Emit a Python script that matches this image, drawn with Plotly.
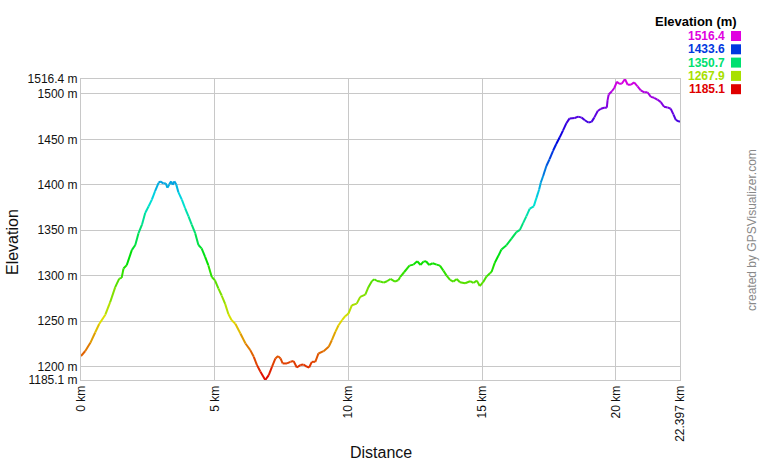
import colorsys
import plotly.graph_objects as go

# ---------------- data ----------------
distance_km = [
    0.00, 0.16, 0.35, 0.53, 0.68, 0.91, 1.09, 1.28, 1.43, 1.52, 1.59, 1.71, 1.90, 2.03,
    2.15, 2.28, 2.40, 2.53, 2.65, 2.77, 2.90, 2.96, 3.08, 3.17, 3.23, 3.30, 3.37, 3.43,
    3.49, 3.56, 3.64, 3.77, 3.89, 4.02, 4.14, 4.27, 4.39, 4.51, 4.64, 4.76, 4.89, 5.01,
    5.14, 5.26, 5.39, 5.51, 5.63, 5.77, 5.96, 6.15, 6.33, 6.46, 6.58, 6.71, 6.89, 7.02,
    7.14, 7.27, 7.37, 7.46, 7.54, 7.70, 7.83, 7.95, 8.07, 8.20, 8.32, 8.45, 8.53, 8.63,
    8.76, 8.88, 9.07, 9.26, 9.38, 9.51, 9.63, 9.76, 9.88, 10.00, 10.13, 10.31, 10.44,
    10.63, 10.75, 10.88, 10.97, 11.07, 11.19, 11.32, 11.44, 11.57, 11.74, 11.87, 11.93,
    12.08, 12.28, 12.43, 12.57, 12.70, 12.80, 12.90, 13.02, 13.15, 13.30, 13.42, 13.55,
    13.67, 13.80, 13.92, 14.05, 14.17, 14.36, 14.55, 14.67, 14.80, 14.91, 15.04, 15.16,
    15.29, 15.35, 15.47, 15.60, 15.72, 15.91, 16.09, 16.28, 16.41, 16.53, 16.65, 16.78,
    16.93, 17.03, 17.13, 17.19, 17.28, 17.40, 17.52, 17.65, 17.77, 17.90, 18.02, 18.15,
    18.27, 18.46, 18.59, 18.72, 18.84, 18.97, 19.09, 19.19, 19.32, 19.44, 19.56, 19.66,
    19.69, 19.73, 19.85, 19.94, 20.04, 20.12, 20.22, 20.34, 20.44, 20.56, 20.68, 20.81,
    20.93, 21.06, 21.18, 21.31, 21.43, 21.55, 21.68, 21.80, 21.93, 22.05, 22.15, 22.24,
    22.36, 22.397,
]
elevation_m = [
    1211.5, 1217.0, 1226.0, 1237.4, 1246.7, 1257.0, 1270.7, 1287.4, 1296.7, 1297.5, 1307.8,
    1311.5, 1328.0, 1333.7, 1346.7, 1356.0, 1369.0, 1376.3, 1383.7, 1393.0, 1402.2, 1403.7,
    1401.5, 1401.5, 1396.7, 1400.4, 1403.7, 1400.0, 1403.7, 1400.4, 1391.9, 1383.7, 1374.4,
    1365.2, 1356.0, 1346.7, 1333.7, 1330.0, 1320.7, 1311.5, 1298.5, 1294.8, 1285.6, 1278.1,
    1268.9, 1257.8, 1251.0, 1247.0, 1236.3, 1225.3, 1218.0, 1210.6, 1201.5, 1194.1, 1185.1,
    1190.5, 1199.6, 1208.8, 1211.4, 1208.8, 1203.3, 1203.3, 1205.1, 1205.9, 1198.9, 1201.5,
    1202.2, 1199.6, 1198.9, 1205.1, 1205.1, 1214.3, 1216.8, 1221.6, 1228.9, 1238.1, 1245.4,
    1250.9, 1255.3, 1258.2, 1267.4, 1269.2, 1276.6, 1279.1, 1287.5, 1294.1, 1296.0, 1294.1,
    1293.5, 1292.3, 1293.8, 1296.3, 1293.4, 1295.2, 1298.2, 1303.7, 1311.0, 1312.1, 1315.8,
    1311.7, 1315.4, 1315.8, 1311.7, 1313.6, 1312.1, 1311.0, 1305.5, 1300.0, 1295.2, 1293.4,
    1296.3, 1292.7, 1291.6, 1293.8, 1291.9, 1294.5, 1288.5, 1293.0, 1298.9, 1302.6, 1304.0,
    1314.0, 1321.5, 1328.8, 1333.5, 1340.4, 1347.8, 1350.4, 1357.8, 1365.2, 1373.7, 1376.3,
    1385.6, 1394.8, 1402.2, 1409.6, 1420.7, 1428.1, 1437.4, 1444.8, 1452.2, 1459.6, 1467.8,
    1473.0, 1473.5, 1475.0, 1473.9, 1471.0, 1468.5, 1469.2, 1473.9, 1481.2, 1483.7, 1484.8,
    1484.8, 1493.1, 1499.3, 1502.9, 1506.5, 1513.4, 1511.2, 1511.2, 1516.4, 1510.1, 1510.1,
    1512.7, 1508.3, 1504.0, 1501.8, 1501.8, 1496.7, 1495.7, 1493.8, 1490.9, 1485.9, 1485.1,
    1483.7, 1477.5, 1471.4, 1469.6, 1469.5,
]
y_tick_values = [1185.1, 1200, 1250, 1300, 1350, 1400, 1450, 1500, 1516.4]
y_tick_labels = ["1185.1 m", "1200 m", "1250 m", "1300 m", "1350 m", "1400 m",
                 "1450 m", "1500 m", "1516.4 m"]
x_tick_values = [0, 5, 10, 15, 20, 22.397]
x_tick_labels = ["0 km", "5 km", "10 km", "15 km", "20 km", "22.397 km"]
legend_values = [1516.4, 1433.6, 1350.7, 1267.9, 1185.1]
legend_labels = ["1516.4", "1433.6", "1350.7", "1267.9", "1185.1"]

E_MIN, E_MAX = 1185.1, 1516.4
FONT = "Liberation Sans, Arial, sans-serif"

# full 760x460 page (body margin removed below); plot area x 81..680, y 79..380
W, H = 760, 460
L, T = 81, 79
R = W - 680
B = H - 380
PW, PH = W - L - R, H - T - B


def px_x(px):  # page pixel -> paper x
    return (px - L) / PW


def px_y(py):  # page pixel -> paper y
    return (H - B - py) / PH


def color_for(e):
    f = max(0.0, min(1.0, (e - E_MIN) / (E_MAX - E_MIN)))
    r, g, b = colorsys.hsv_to_rgb(f * 300 / 360, 1.0, 0.88)
    return f"rgb({int(r*255)},{int(g*255)},{int(b*255)})"


fig = go.Figure()
for i in range(len(distance_km) - 1):
    fig.add_trace(go.Scatter(
        x=distance_km[i:i + 2], y=elevation_m[i:i + 2], mode="lines",
        line=dict(color=color_for((elevation_m[i] + elevation_m[i + 1]) / 2), width=2),
        showlegend=False, hoverinfo="skip"))

annotations = [
    dict(text="Distance", x=0.5, y=px_y(452), xref="paper", yref="paper",
         showarrow=False, xanchor="center", yanchor="middle",
         font=dict(family=FONT, size=16, color="#111")),
    dict(text="Elevation", x=px_x(12), y=px_y(242), xref="paper", yref="paper",
         showarrow=False, textangle=-90, xanchor="center", yanchor="middle",
         font=dict(family=FONT, size=16, color="#111")),
    dict(text="created by GPSVisualizer.com", x=px_x(752), y=px_y(230),
         xref="paper", yref="paper", showarrow=False, textangle=-90,
         xanchor="center", yanchor="middle",
         font=dict(family=FONT, size=12, color="#888")),
    dict(text="<b>Elevation (m)</b>", x=px_x(739), y=px_y(22), xref="paper",
         yref="paper", showarrow=False, xanchor="right", yanchor="middle",
         font=dict(family=FONT, size=13, color="#000")),
]
shapes = []
for k, (v, lab) in enumerate(zip(legend_values, legend_labels)):
    cy = 36 + k * 13.3
    annotations.append(dict(
        text=f"<b>{lab}</b>", x=px_x(727), y=px_y(cy), xref="paper", yref="paper",
        showarrow=False, xanchor="right", yanchor="middle",
        font=dict(family=FONT, size=12, color=color_for(v))))
    shapes.append(dict(
        type="rect", xref="paper", yref="paper",
        x0=px_x(731), x1=px_x(741), y0=px_y(cy + 5), y1=px_y(cy - 5),
        fillcolor=color_for(v), line=dict(width=0)))

fig.update_layout(
    width=W, height=H,
    margin=dict(l=L, r=R, t=T, b=B),
    paper_bgcolor="white", plot_bgcolor="white",
    annotations=annotations, shapes=shapes,
    font=dict(family=FONT, size=12, color="#111"),
    xaxis=dict(range=[0, 22.397], tickvals=x_tick_values, ticktext=x_tick_labels,
               tickangle=-90, showgrid=True, gridcolor="#c8c8c8", gridwidth=1,
               showline=True, linecolor="#c8c8c8", linewidth=1, mirror=True,
               zeroline=False, ticks="", tickfont=dict(size=12, family=FONT, color="#111"),
               automargin=False),
    yaxis=dict(range=[E_MIN, E_MAX], tickvals=y_tick_values, ticktext=y_tick_labels,
               showgrid=True, gridcolor="#c8c8c8", gridwidth=1,
               showline=True, linecolor="#c8c8c8", linewidth=1, mirror=True,
               zeroline=False, ticks="", tickfont=dict(size=12, family=FONT, color="#111"),
               automargin=False),
)

fig.write_html(
    "out.html",
    config={"displayModeBar": False},
    post_script="document.body.style.margin='0px';document.body.style.overflow='hidden';",
)
